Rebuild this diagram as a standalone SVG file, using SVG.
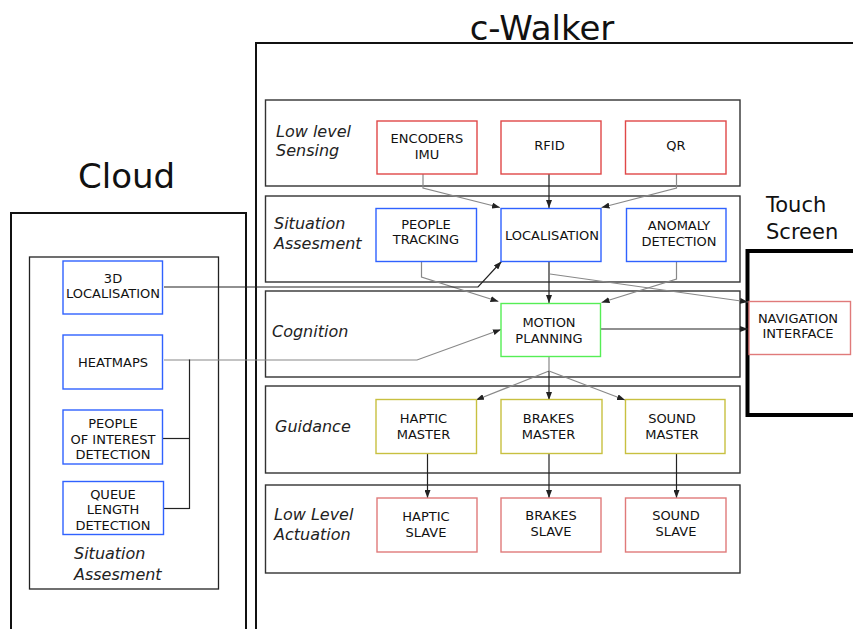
<svg xmlns="http://www.w3.org/2000/svg" width="853" height="629" viewBox="0 0 853 629">
<defs>
<marker id="ah" viewBox="0 0 8 6" refX="8" refY="3" markerWidth="8" markerHeight="6" markerUnits="userSpaceOnUse" orient="auto">
<path d="M0,0 L8,3 L0,6 z" fill="#222"/>
</marker>
</defs>
<style>
.title{font-family:"DejaVu Sans",sans-serif;fill:#111}
.layer{fill:none;stroke:#333;stroke-width:1.4}
.lbl{font-family:"DejaVu Sans",sans-serif;font-style:italic;font-size:16px;fill:#222}
.bt{font-family:"DejaVu Sans",sans-serif;font-size:13px;fill:#111;text-anchor:middle}
.red{fill:#fff;stroke:#e04848;stroke-width:1.4}
.lred{fill:#fff;stroke:#e07a7a;stroke-width:1.4}
.blue{fill:#fff;stroke:#2f62ff;stroke-width:1.4}
.green{fill:#fff;stroke:#55ee55;stroke-width:1.4}
.olive{fill:#fff;stroke:#c8c040;stroke-width:1.4}
.k{fill:none;stroke:#222;stroke-width:1.2}
.g{fill:none;stroke:#888;stroke-width:1.2}
.arr{marker-end:url(#ah)}
</style>
<rect width="853" height="629" fill="#fff"/>

<g id="frames">
<rect x="11" y="213" width="235" height="430" fill="none" stroke="#111" stroke-width="2"/>
<rect x="29.5" y="257" width="189" height="332" fill="none" stroke="#222" stroke-width="1.3"/>
<rect x="256" y="43" width="620" height="600" fill="none" stroke="#111" stroke-width="2"/>
<rect x="747.5" y="251" width="120" height="164" fill="none" stroke="#000" stroke-width="4"/>
<text class="title" x="542" y="40" font-size="34" text-anchor="middle">c-Walker</text>
<text class="title" x="78" y="188" font-size="34">Cloud</text>
<text class="title" x="766" y="212" font-size="21">Touch</text>
<text class="title" x="766" y="239" font-size="21">Screen</text>
</g>

<g id="layers">
<rect class="layer" x="265.5" y="100" width="474.5" height="86"/>
<rect class="layer" x="265.5" y="196" width="474.5" height="86"/>
<rect class="layer" x="265.5" y="291" width="474.5" height="86"/>
<rect class="layer" x="265.5" y="386" width="474.5" height="87"/>
<rect class="layer" x="265.5" y="485" width="474.5" height="88"/>
<text class="lbl" x="276" y="136.5">Low level</text>
<text class="lbl" x="276" y="156">Sensing</text>
<text class="lbl" x="274" y="229">Situation</text>
<text class="lbl" x="274" y="248.5">Assesment</text>
<text class="lbl" x="272" y="337">Cognition</text>
<text class="lbl" x="275" y="431.5">Guidance</text>
<text class="lbl" x="274" y="520">Low Level</text>
<text class="lbl" x="274" y="539.5">Actuation</text>
<text class="lbl" x="74" y="559">Situation</text>
<text class="lbl" x="74" y="580">Assesment</text>
</g>

<g id="connectors">
<polyline class="g arr" points="423,174 423,188 500,207.5"/>
<line class="k arr" x1="549" y1="174" x2="549" y2="208"/>
<polyline class="g arr" points="676.5,174 676.5,188 601.5,207.5"/>
<polyline class="g arr" points="421.5,261 421.5,277 498.5,301.5"/>
<line class="k arr" x1="549" y1="261" x2="549" y2="303"/>
<polyline class="g arr" points="676.5,261 676.5,279 601.5,302.5"/>
<line class="g arr" x1="550" y1="274" x2="748" y2="302"/>
<line class="k arr" x1="599" y1="329" x2="748" y2="329"/>
<polyline class="k arr" points="164,287 478,287 501.5,261.5"/>
<polyline class="g arr" points="164,360 417,360 501,329.5"/>
<line class="k" x1="189.5" y1="359.5" x2="189.5" y2="509"/>
<line class="k" x1="163" y1="438.5" x2="189.5" y2="438.5"/>
<line class="k" x1="159.5" y1="508.5" x2="189.5" y2="508.5"/>
<line class="g" x1="549" y1="356" x2="549" y2="371"/>
<line class="g arr" x1="549" y1="371" x2="476" y2="400"/>
<line class="k arr" x1="549" y1="371" x2="549" y2="400"/>
<line class="g arr" x1="549" y1="371" x2="625" y2="400"/>
<line class="k arr" x1="427.5" y1="453.5" x2="427.5" y2="498"/>
<line class="k arr" x1="549" y1="453.5" x2="549" y2="498"/>
<line class="k arr" x1="676.5" y1="453.5" x2="676.5" y2="498"/>
</g>

<g id="encoders"><rect class="red" x="377" y="121" width="100" height="53"/><text class="bt" x="427" y="143">ENCODERS</text><text class="bt" x="427" y="158.5">IMU</text></g>
<g id="rfid"><rect class="red" x="501" y="121" width="100" height="53"/><text class="bt" x="549.5" y="149.5">RFID</text></g>
<g id="qr"><rect class="red" x="625.5" y="121" width="100.5" height="53"/><text class="bt" x="676" y="149.5">QR</text></g>

<g id="people-tracking"><rect class="blue" x="376" y="208.5" width="100.5" height="53"/><text class="bt" x="426" y="228.5">PEOPLE</text><text class="bt" x="426" y="244">TRACKING</text></g>
<g id="localisation"><rect class="blue" x="501" y="208.5" width="100" height="53"/><text class="bt" x="552" y="240">LOCALISATION</text></g>
<g id="anomaly"><rect class="blue" x="626.5" y="208.5" width="99.5" height="53"/><text class="bt" x="679" y="230">ANOMALY</text><text class="bt" x="679" y="245.5">DETECTION</text></g>

<g id="motion-planning"><rect class="green" x="501" y="303.5" width="99.5" height="53"/><text class="bt" x="549" y="326.5">MOTION</text><text class="bt" x="549" y="342.5">PLANNING</text></g>

<g id="haptic-master"><rect class="olive" x="376" y="399.5" width="100.5" height="54"/><text class="bt" x="423.5" y="422.5">HAPTIC</text><text class="bt" x="423.5" y="439">MASTER</text></g>
<g id="brakes-master"><rect class="olive" x="501" y="399.5" width="101" height="54"/><text class="bt" x="548.5" y="422.5">BRAKES</text><text class="bt" x="548.5" y="439">MASTER</text></g>
<g id="sound-master"><rect class="olive" x="625.5" y="399.5" width="99.5" height="54"/><text class="bt" x="672" y="422.5">SOUND</text><text class="bt" x="672" y="439">MASTER</text></g>

<g id="haptic-slave"><rect class="lred" x="377" y="498" width="100" height="54"/><text class="bt" x="426" y="520.5">HAPTIC</text><text class="bt" x="426" y="536.5">SLAVE</text></g>
<g id="brakes-slave"><rect class="lred" x="501" y="498" width="100" height="54"/><text class="bt" x="551" y="519.5">BRAKES</text><text class="bt" x="551" y="535.5">SLAVE</text></g>
<g id="sound-slave"><rect class="lred" x="625.5" y="498" width="100.5" height="54"/><text class="bt" x="676" y="519.5">SOUND</text><text class="bt" x="676" y="535.5">SLAVE</text></g>

<g id="navigation-interface"><rect class="lred" x="749" y="301.5" width="101.5" height="53"/><text class="bt" x="798" y="322.5">NAVIGATION</text><text class="bt" x="798" y="337.5">INTERFACE</text></g>

<g id="loc3d"><rect class="blue" x="63" y="261" width="99.5" height="53"/><text class="bt" x="113" y="282.5">3D</text><text class="bt" x="113" y="298">LOCALISATION</text></g>
<g id="heatmaps"><rect class="blue" x="63" y="335" width="99.5" height="54"/><text class="bt" x="113" y="366.5">HEATMAPS</text></g>
<g id="people-of-interest"><rect class="blue" x="63" y="410" width="99.5" height="54"/><text class="bt" x="113" y="427.5">PEOPLE</text><text class="bt" x="113" y="443.5">OF INTEREST</text><text class="bt" x="113" y="459">DETECTION</text></g>
<g id="queue-length"><rect class="blue" x="63" y="481.5" width="100.5" height="53"/><text class="bt" x="113" y="498.5">QUEUE</text><text class="bt" x="113" y="514">LENGTH</text><text class="bt" x="113" y="529.5">DETECTION</text></g>
</svg>
